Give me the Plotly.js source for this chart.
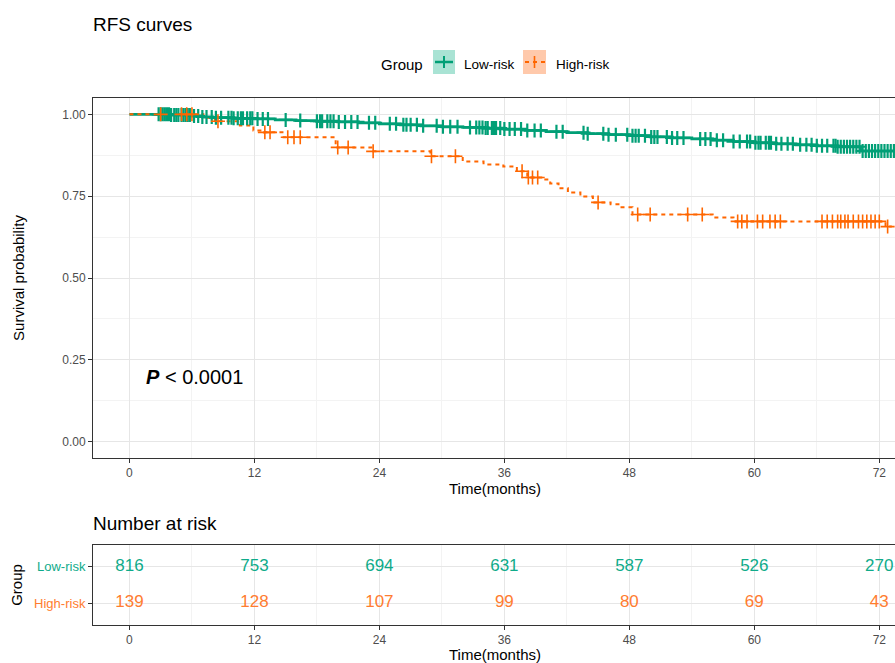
<!DOCTYPE html>
<html>
<head>
<meta charset="utf-8">
<script src="https://cdn.plot.ly/plotly-3.0.1.min.js"></script>
<style>
html,body{margin:0;padding:0;overflow:hidden;background:#fff;width:895px;height:663px;}
#chart{width:900px;height:663px;}
</style>
</head>
<body>
<div id="chart"></div>
<script>
// ---------------- data ----------------
const groups = ["Low-risk", "High-risk"];
const lowTimes = [0, 4, 6, 7, 8, 10, 12, 14, 16, 18, 20, 22, 24, 26, 28, 30, 32, 34, 36, 38, 40, 42, 44, 46, 48, 50, 52, 54, 56, 58, 60, 62, 64, 66, 68, 70.2, 73.7];
const lowSurv  = [1.0, 0.998, 0.995, 0.992, 0.99, 0.988, 0.986, 0.983, 0.981, 0.979, 0.977, 0.974, 0.971, 0.968, 0.965, 0.962, 0.96, 0.958, 0.955, 0.951, 0.947, 0.944, 0.941, 0.938, 0.935, 0.931, 0.928, 0.925, 0.921, 0.917, 0.913, 0.91, 0.907, 0.904, 0.901, 0.888, 0.888];
const lowCensor = [2.8, 3.0, 3.2, 3.4, 3.6, 3.8, 4.0, 4.3, 4.5, 4.7, 5.0, 5.2, 5.4, 5.6, 5.8, 6.2, 6.6, 7.0, 7.4, 7.9, 8.3, 8.8, 9.5, 9.8, 10.0, 10.4, 10.7, 10.9, 11.3, 11.6, 11.8, 12.3, 12.8, 13.3, 15.0, 16.4, 18.0, 18.3, 18.5, 19.0, 19.3, 19.6, 20.1, 20.7, 21.3, 21.9, 23.0, 23.6, 25.0, 25.6, 26.3, 26.6, 27.0, 27.6, 28.2, 29.5, 30.1, 30.8, 31.5, 32.7, 33.3, 33.6, 33.9, 34.2, 34.4, 34.8, 35.0, 35.2, 35.6, 36.0, 36.5, 37.0, 37.6, 38.2, 38.9, 39.5, 41.0, 41.6, 43.6, 44.0, 45.5, 46.0, 46.7, 47.8, 48.3, 48.6, 48.9, 49.5, 50.1, 50.4, 50.7, 51.6, 52.1, 52.6, 53.2, 54.8, 55.3, 55.8, 56.4, 57.0, 58.0, 58.6, 59.3, 59.6, 60.1, 60.4, 60.6, 61.1, 61.4, 61.6, 62.1, 62.6, 63.2, 63.7, 64.4, 65.0, 65.5, 66.0, 66.5, 67.0, 67.6, 67.8, 68.0, 68.3, 68.6, 68.9, 69.2, 69.5, 69.8, 70.1, 70.4, 70.7, 71.0, 71.3, 71.6, 71.9, 72.2, 72.5, 72.8, 73.1, 73.4, 73.7];
const highTimes = [0, 7.1, 8.2, 10.6, 11.9, 12.9, 14.8, 19.8, 23.4, 28.9, 32.0, 34.0, 35.9, 37.2, 38.2, 39.7, 40.4, 41.2, 42.1, 43.3, 44.5, 46.2, 47.1, 48.3, 56.0, 58.0, 72.6, 73.2];
const highSurv  = [1.0, 0.99, 0.979, 0.966, 0.951, 0.945, 0.93, 0.899, 0.887, 0.872, 0.856, 0.847, 0.841, 0.826, 0.807, 0.801, 0.789, 0.774, 0.761, 0.749, 0.731, 0.725, 0.716, 0.694, 0.685, 0.673, 0.657, 0.657];
const highCensor = [3.0, 5.0, 5.5, 6.0, 8.5, 13.0, 13.5, 15.2, 15.8, 16.4, 20.0, 21.0, 23.4, 29.0, 31.3, 37.7, 38.3, 38.7, 39.2, 45.0, 48.8, 50.0, 53.6, 55.0, 58.4, 58.8, 59.3, 60.3, 60.8, 61.5, 62.0, 62.5, 66.5, 67.0, 67.5, 68.0, 68.3, 68.7, 69.0, 69.5, 70.0, 70.4, 70.8, 71.2, 71.6, 72.0, 72.8];
const riskTimes = [0, 12, 24, 36, 48, 60, 72];
const lowRisk  = [816, 753, 694, 631, 587, 526, 270];
const highRisk = [139, 128, 107, 99, 80, 69, 43];
const xTicks = [0, 12, 24, 36, 48, 60, 72];
const yTicks = [0, 0.25, 0.5, 0.75, 1];
const yTickText = ["0.00", "0.25", "0.50", "0.75", "1.00"];
const pText = "<b><i>P</i></b> < 0.0001";

// ---------------- styles ----------------
const GREEN = "#009f76", ORANGE = "#ff6600";
const GREEN_T = "#0fab8a", ORANGE_T = "#ff7c30";
const FONT = "Liberation Sans, Arial, sans-serif";

function stepAt(times, surv, t){
  let v = surv[0];
  for (let i = 0; i < times.length; i++){ if (times[i] <= t) v = surv[i]; }
  return v;
}

const traces = [
  {x: lowTimes, y: lowSurv, type: "scatter", mode: "lines", line: {shape: "hv", color: GREEN, width: 2.8}, xaxis: "x", yaxis: "y", showlegend: false, hoverinfo: "skip"},
  {x: highTimes, y: highSurv, type: "scatter", mode: "lines", line: {shape: "hv", color: ORANGE, width: 2, dash: "4px,4px"}, xaxis: "x", yaxis: "y", showlegend: false, hoverinfo: "skip"},
  {x: lowCensor, y: lowCensor.map(t => stepAt(lowTimes, lowSurv, t)), type: "scatter", mode: "markers",
   marker: {symbol: "cross-thin", size: 10, line: {color: GREEN, width: 2.2}}, xaxis: "x", yaxis: "y", showlegend: false, hoverinfo: "skip"},
  {x: highCensor, y: highCensor.map(t => stepAt(highTimes, highSurv, t)), type: "scatter", mode: "markers",
   marker: {symbol: "cross-thin", size: 10, line: {color: ORANGE, width: 1.6}}, xaxis: "x", yaxis: "y", showlegend: false, hoverinfo: "skip"},
  {x: riskTimes, y: riskTimes.map(() => groups[0]), text: lowRisk.map(String), type: "scatter", mode: "text",
   textfont: {family: FONT, size: 17, color: GREEN_T}, xaxis: "x2", yaxis: "y2", showlegend: false, cliponaxis: false, hoverinfo: "skip"},
  {x: riskTimes, y: riskTimes.map(() => groups[1]), text: highRisk.map(String), type: "scatter", mode: "text",
   textfont: {family: FONT, size: 17, color: ORANGE_T}, xaxis: "x2", yaxis: "y2", showlegend: false, cliponaxis: false, hoverinfo: "skip"}
];

const L = 93, R = 897, T = 98, B = 625;
const px2x = p => (p - L) / (R - L);
const px2y = p => (B - p) / (B - T);

const axisCommon = {
  showline: true, mirror: true, linecolor: "#333333", linewidth: 1,
  ticks: "outside", ticklen: 4, tickcolor: "#333333", tickwidth: 1,
  gridcolor: "#e6e6e6", gridwidth: 1, zeroline: false,
  tickfont: {family: FONT, size: 12, color: "#4d4d4d"}, automargin: false
};

const layout = {
  width: 900, height: 663,
  margin: {l: L, r: 900 - R, t: T, b: 663 - B},
  paper_bgcolor: "#ffffff", plot_bgcolor: "#ffffff",
  font: {family: FONT, color: "#000"},
  showlegend: false,
  title: {text: "RFS curves", x: L / 900, xanchor: "left", xref: "container", y: 1 - 24 / 663, yanchor: "middle", yref: "container",
          font: {family: FONT, size: 19, color: "#000"}},
  xaxis: Object.assign({}, axisCommon, {
    domain: [0, 1], anchor: "y", range: [-3.5, 73.7], tickmode: "array", tickvals: xTicks,
    minor: {tickmode: "array", tickvals: [6, 18, 30, 42, 54, 66], showgrid: true, gridcolor: "#f3f3f3", ticks: ""},
    title: {text: "Time(months)", font: {family: FONT, size: 15, color: "#000"}, standoff: 4}
  }),
  yaxis: Object.assign({}, axisCommon, {
    domain: [px2y(458), 1], anchor: "x", range: [-0.05, 1.05], tickmode: "array", tickvals: yTicks, ticktext: yTickText,
    minor: {tickmode: "array", tickvals: [0.125, 0.375, 0.625, 0.875], showgrid: true, gridcolor: "#f3f3f3", ticks: ""},
    title: {text: "Survival probability", font: {family: FONT, size: 15, color: "#000"}, standoff: 33}
  }),
  xaxis2: Object.assign({}, axisCommon, {
    domain: [0, 1], anchor: "y2", range: [-3.5, 73.7], tickmode: "array", tickvals: xTicks,
    minor: {tickmode: "array", tickvals: [6, 18, 30, 42, 54, 66], showgrid: true, gridcolor: "#f3f3f3", ticks: ""},
    title: {text: "Time(months)", font: {family: FONT, size: 15, color: "#000"}, standoff: 4}
  }),
  yaxis2: Object.assign({}, axisCommon, {
    domain: [0, px2y(545)], anchor: "x2", type: "category", categoryorder: "array", categoryarray: [groups[1], groups[0]],
    range: [-0.6, 1.6], tickmode: "array", tickvals: [groups[0], groups[1]],
    ticktext: ['<span style="color:' + GREEN_T + '">' + groups[0] + '</span>', '<span style="color:' + ORANGE_T + '">' + groups[1] + '</span>'],
    tickfont: {family: FONT, size: 13},
    title: {text: "Group", font: {family: FONT, size: 15, color: "#000"}, standoff: 7}
  }),
  shapes: [
    {type: "rect", xref: "paper", yref: "paper", x0: px2x(433), x1: px2x(455), y0: px2y(74), y1: px2y(50), fillcolor: "#a9e3d4", line: {width: 0}},
    {type: "line", xref: "paper", yref: "paper", x0: px2x(435), x1: px2x(453), y0: px2y(62), y1: px2y(62), line: {color: GREEN, width: 2.5}},
    {type: "line", xref: "paper", yref: "paper", x0: px2x(444), x1: px2x(444), y0: px2y(56), y1: px2y(68), line: {color: GREEN, width: 2}},
    {type: "rect", xref: "paper", yref: "paper", x0: px2x(523), x1: px2x(546), y0: px2y(74), y1: px2y(50), fillcolor: "#ffc9ab", line: {width: 0}},
    {type: "line", xref: "paper", yref: "paper", x0: px2x(525), x1: px2x(545), y0: px2y(62), y1: px2y(62), line: {color: ORANGE, width: 2, dash: "4px,4px"}},
    {type: "line", xref: "paper", yref: "paper", x0: px2x(534.5), x1: px2x(534.5), y0: px2y(56), y1: px2y(68), line: {color: ORANGE, width: 1.6}}
  ],
  annotations: [
    {text: "Group", xref: "paper", yref: "paper", x: px2x(379), y: px2y(64), xanchor: "left", yanchor: "middle", showarrow: false,
     font: {family: FONT, size: 15, color: "#000"}},
    {text: "Low-risk", xref: "paper", yref: "paper", x: px2x(462), y: px2y(64), xanchor: "left", yanchor: "middle", showarrow: false,
     font: {family: FONT, size: 13.5, color: "#000"}},
    {text: "High-risk", xref: "paper", yref: "paper", x: px2x(554), y: px2y(64), xanchor: "left", yanchor: "middle", showarrow: false,
     font: {family: FONT, size: 13.5, color: "#000"}},
    {text: "Number at risk", xref: "paper", yref: "paper", x: 0, xshift: -2, y: px2y(523), xanchor: "left", yanchor: "middle", showarrow: false,
     font: {family: FONT, size: 19, color: "#000"}},
    {text: pText, xref: "x", yref: "y", x: 1.4, y: 0.196, xanchor: "left", yanchor: "middle", showarrow: false,
     font: {family: FONT, size: 20, color: "#000"}}
  ]
};

Plotly.newPlot("chart", traces, layout, {displayModeBar: false, staticPlot: true});
</script>
</body>
</html>
